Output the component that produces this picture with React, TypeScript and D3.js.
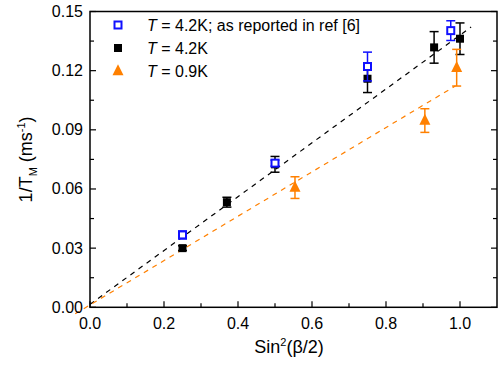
import * as d3 from "d3";

// T = 4.2K as reported in ref [6]
const refX = [0.25, 0.5, 0.75, 0.975];
const refY = [0.0367, 0.0731, 0.1221, 0.1403];
const refErr = [0.002, 0.0015, 0.0073, 0.005];

// T = 4.2K
const blackX = [0.25, 0.37, 0.5, 0.75, 0.93, 1.0];
const blackY = [0.03, 0.0533, 0.0725, 0.1159, 0.1318, 0.1362];
const blackErr = [0.0012, 0.0025, 0.004, 0.007, 0.008, 0.008];

// T = 0.9K
const orangeX = [0.554, 0.905, 0.991];
const orangeY = [0.0607, 0.0947, 0.1215];
const orangeErr = [0.0055, 0.006, 0.0093];

// dashed linear fits [x, y]
const blackFit: [number, number][] = [[0, 0.0015], [1.03, 0.1421]];
const orangeFit: [number, number][] = [[-0.04, -0.0033], [0.988, 0.1123]];

const xTicks = [0, 0.2, 0.4, 0.6, 0.8, 1.0];
const xMinor = [0.1, 0.3, 0.5, 0.7, 0.9];
const yTicks = [0, 0.03, 0.06, 0.09, 0.12, 0.15];
const yMinor = [0.015, 0.045, 0.075, 0.105, 0.135];

const legendLabels = ["= 4.2K; as reported in ref [6]", "= 4.2K", "= 0.9K"];

const BLUE = "#1010ff";
const ORANGE = "#ff8000";
const FONT = "Liberation Sans, Arial, sans-serif";

export default function App() {
  const width = 498;
  const height = 374;
  const left = 90, right = 497, top = 11.5, bottom = 307.3;

  const x = d3.scaleLinear().domain([0, 1.1]).range([left, right]);
  const y = d3.scaleLinear().domain([0, 0.15]).range([bottom, top]);
  const line = d3.line<[number, number]>().x((d) => x(d[0])).y((d) => y(d[1]));

  const errBar = (xs: number[], ys: number[], es: number[], color: string, key: string) =>
    xs.map((xv, i) => {
      const cx = x(xv);
      const y1 = y(ys[i] + es[i]);
      const y2 = y(ys[i] - es[i]);
      return (
        <g key={key + i} stroke={color} strokeWidth={1.5}>
          <line x1={cx} x2={cx} y1={y1} y2={y2} />
          <line x1={cx - 4.5} x2={cx + 4.5} y1={y1} y2={y1} />
          <line x1={cx - 4.5} x2={cx + 4.5} y1={y2} y2={y2} />
        </g>
      );
    });

  const tri = (cx: number, cy: number, s: number) =>
    `M${cx},${cy - s * 0.62}L${cx + s / 2},${cy + s * 0.38}L${cx - s / 2},${cy + s * 0.38}Z`;

  return (
    <svg
      width={width}
      height={height}
      style={{ position: "absolute", left: 0, top: 0, background: "#fff" }}
      fontFamily={FONT}
    >
      <rect width={width} height={height} fill="#fff" />

      {/* fit lines */}
      <path d={line(blackFit) ?? ""} stroke="#000" strokeWidth={1.2} strokeDasharray="5,5" fill="none" />
      <path d={line(orangeFit) ?? ""} stroke={ORANGE} strokeWidth={1.2} strokeDasharray="5,5" fill="none" />

      {/* T = 4.2K */}
      {errBar(blackX, blackY, blackErr, "#000", "be")}
      {blackX.map((xv, i) => (
        <rect key={"b" + i} x={x(xv) - 4} y={y(blackY[i]) - 4} width={8} height={8} fill="#000" />
      ))}

      {/* ref [6] */}
      {errBar(refX, refY, refErr, BLUE, "re")}
      {refX.map((xv, i) => (
        <rect key={"r" + i} x={x(xv) - 3.5} y={y(refY[i]) - 3.5} width={7} height={7} fill="#fff" stroke={BLUE} strokeWidth={2} />
      ))}

      {/* T = 0.9K */}
      {errBar(orangeX, orangeY, orangeErr, ORANGE, "oe")}
      {orangeX.map((xv, i) => (
        <path key={"o" + i} d={tri(x(xv), y(orangeY[i]), 11)} fill={ORANGE} />
      ))}

      {/* frame */}
      <rect x={left} y={top} width={right - left} height={bottom - top} fill="none" stroke="#000" strokeWidth={1.5} />

      {/* x ticks */}
      {xTicks.map((t) => (
        <g key={"xt" + t}>
          <line x1={x(t)} x2={x(t)} y1={bottom} y2={bottom - 6} stroke="#000" strokeWidth={1.2} />
          <text x={x(t)} y={bottom + 22} textAnchor="middle" fontSize={16}>
            {t.toFixed(1)}
          </text>
        </g>
      ))}
      {xMinor.map((t) => (
        <line key={"xm" + t} x1={x(t)} x2={x(t)} y1={bottom} y2={bottom - 4} stroke="#000" strokeWidth={1.2} />
      ))}

      {/* y ticks */}
      {yTicks.map((t) => (
        <g key={"yt" + t}>
          <line x1={left} x2={left + 6} y1={y(t)} y2={y(t)} stroke="#000" strokeWidth={1.2} />
          <line x1={right} x2={right - 6} y1={y(t)} y2={y(t)} stroke="#000" strokeWidth={1.2} />
          <text x={left - 7} y={y(t) + 5.5} textAnchor="end" fontSize={16}>
            {t.toFixed(2)}
          </text>
        </g>
      ))}
      {yMinor.map((t) => (
        <g key={"ym" + t}>
          <line x1={left} x2={left + 4} y1={y(t)} y2={y(t)} stroke="#000" strokeWidth={1.2} />
          <line x1={right} x2={right - 4} y1={y(t)} y2={y(t)} stroke="#000" strokeWidth={1.2} />
        </g>
      ))}

      {/* axis titles */}
      <text x={289} y={353} textAnchor="middle" fontSize={18}>
        Sin<tspan dy={-7} fontSize={11}>2</tspan>
        <tspan dy={7}>(β/2)</tspan>
      </text>
      <text transform={`translate(32,${(top + bottom) / 2}) rotate(-90)`} textAnchor="middle" fontSize={18}>
        1/T<tspan dy={5} fontSize={11}>M</tspan>
        <tspan dy={-5}> (ms</tspan>
        <tspan dy={-7} fontSize={11}>-1</tspan>
        <tspan dy={7}>)</tspan>
      </text>

      {/* legend */}
      <rect x={114.5} y={21.5} width={7} height={7} fill="#fff" stroke={BLUE} strokeWidth={2} />
      <rect x={114} y={44} width={8} height={8} fill="#000" />
      <path d={tri(118, 71, 11)} fill={ORANGE} />
      {legendLabels.map((s, i) => (
        <text key={"lg" + i} x={147} y={30.5 + i * 23} fontSize={16}>
          <tspan fontStyle="italic">T</tspan> {s}
        </text>
      ))}
    </svg>
  );
}
